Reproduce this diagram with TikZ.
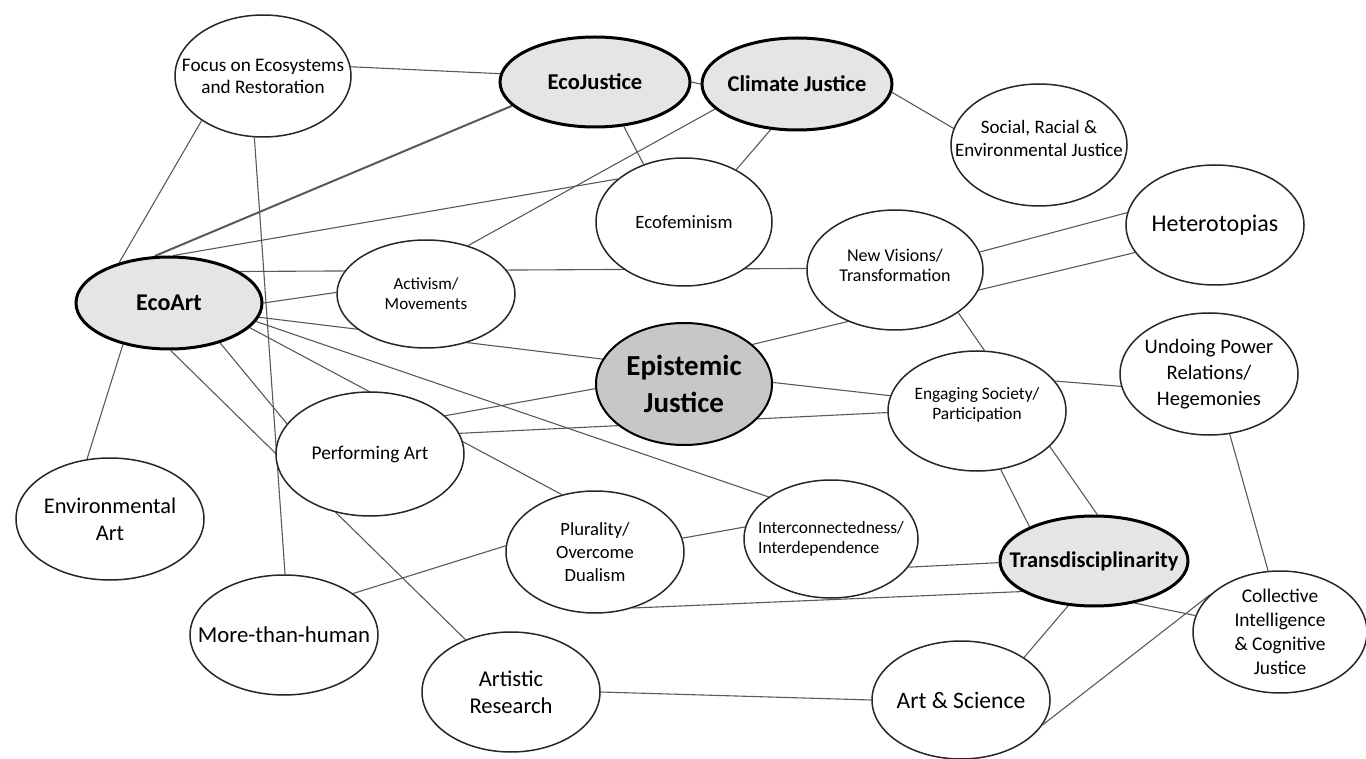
\documentclass[tikz,border=0pt]{standalone}
\usepackage{fontspec}
\setmainfont{Carlito}
\usetikzlibrary{shapes.geometric,backgrounds}
\newcommand\taille[2]{\fontsize{#1}{#2}\selectfont}
\tikzset{
  bulle/.style={ellipse,draw=black!85,line width=0.75pt,fill=white,inner sep=0pt},
  cle/.style={bulle,draw=black,line width=1.5pt,fill=black!10},
  lien/.style={black!65,line width=0.55pt},
  texte/.style 2 args={label={[font=#1,align=center]center:{#2}}}
}
\begin{document}
\begin{tikzpicture}[x=0.5pt,y=-0.5pt]
  \useasboundingbox (0,0) rectangle (1366,759);
  % les notions principales
  \node[cle,minimum width=95pt,minimum height=45pt,texte={\taille{11.3}{13}\bfseries}{EcoJustice}] (ecojust) at (595,82) {};
  \node[cle,minimum width=95pt,minimum height=46pt,texte={\taille{11.3}{13}\bfseries}{Climate Justice}] (climate) at (797,84) {};
  \node[cle,minimum width=93pt,minimum height=46pt,texte={\taille{12}{14}\bfseries}{EcoArt}] (ecoart) at (169,303) {};
  \node[cle,fill=black!22,line width=1pt,minimum width=88pt,minimum height=61pt,texte={\taille{14.5}{18.5}\bfseries}{Epistemic\\Justice}] (epist) at (684,384) {};
  \node[cle,minimum width=94pt,minimum height=45pt,texte={\taille{11.2}{13}\bfseries}{Transdisciplinarity}] (trans) at (1094,561) {};
  % les autres bulles
  \node[bulle,minimum width=88pt,minimum height=61pt,texte={\taille{9.6}{11}}{Focus on Ecosystems\\and Restoration}] (focus) at (263,76) {};
  \node[bulle,minimum width=88pt,minimum height=61pt,label={[font=\taille{9.5}{11.5},align=center,yshift=3.5pt]center:{Social, Racial \&\\Environmental Justice}}] (social) at (1039,145) {};
  \node[bulle,minimum width=89pt,minimum height=60pt,texte={\taille{12}{14}}{Heterotopias}] (hetero) at (1215,225) {};
  \node[bulle,minimum width=88pt,minimum height=64pt,texte={\taille{9.4}{11}}{Ecofeminism}] (ecofem) at (684,222) {};
  \node[bulle,minimum width=88pt,minimum height=60pt,label={[font=\taille{9}{10},align=center,yshift=2.5pt]center:{New Visions/\\Transformation}}] (newvis) at (895,270) {};
  \node[bulle,minimum width=89pt,minimum height=54pt,texte={\taille{8.5}{10}}{Activism/\\Movements}] (activ) at (426,294) {};
  \node[bulle,minimum width=89pt,minimum height=60pt,label={[font=\taille{8.7}{10},align=center,yshift=3pt]center:{Engaging Society/\\Participation}}] (engage) at (977,411) {};
  \node[bulle,minimum width=89pt,minimum height=61pt,texte={\taille{10.3}{13}}{Undoing Power\\Relations/\\Hegemonies}] (undo) at (1209,374) {};
  \node[bulle,minimum width=94pt,minimum height=62pt,texte={\taille{9.7}{11}}{Performing Art}] (perform) at (370,454) {};
  \node[bulle,minimum width=94pt,minimum height=61pt,texte={\taille{11.2}{13.5}}{Environmental\\Art}] (envart) at (110,519) {};
  \node[bulle,minimum width=89pt,minimum height=61pt,texte={\taille{9.3}{11.5}}{Plurality/\\Overcome\\Dualism}] (plural) at (595,552) {};
  \node[bulle,minimum width=87pt,minimum height=59pt,label={[font=\taille{8.7}{10},align=left]center:{Interconnectedness/\\Interdependence}}] (inter) at (831,539) {};
  \node[bulle,minimum width=94pt,minimum height=60pt,texte={\taille{11.4}{13}}{More-than-human}] (more) at (284,635) {};
  \node[bulle,minimum width=89pt,minimum height=60pt,texte={\taille{11.3}{13.5}}{Artistic\\Research}] (artres) at (511,692) {};
  \node[bulle,minimum width=87pt,minimum height=61pt,texte={\taille{9.7}{12}}{Collective\\Intelligence\\\& Cognitive\\Justice}] (collect) at (1280,632) {};
  \node[bulle,minimum width=89pt,minimum height=59pt,texte={\taille{11.8}{14}}{Art \& Science}] (artsci) at (961,700) {};
  % les liens, derriere les bulles
  \begin{scope}[on background layer]
    \draw[lien,line width=1pt] (ecojust.196) -- (ecoart.107);
    \foreach \a/\b in {focus.6/ecojust.175, focus.216/ecoart.141, focus.262/more.89,
        ecojust.0/climate.180, ecojust.303/ecofem.125, climate.240/ecofem.45,
        climate.197/activ.49, climate.355/social.169,
        ecoart.85/ecofem.147, ecoart.24/newvis.179, ecoart.0/activ.179,
        ecoart.351/epist.163, ecoart.348/inter.146, ecoart.343/plural.120,
        ecoart.322/perform.160, ecoart.272/artres.131, ecoart.222/envart.111,
        perform.27/epist.183, perform.13/engage.181, epist.1/engage.170,
        epist.30/hetero.199, newvis.12/hetero.172, newvis.326/engage.83,
        engage.21/undo.188, engage.292/trans.152, engage.334/trans.86,
        undo.289/collect.101, plural.9/inter.172, inter.340/trans.181,
        plural.304/trans.203, trans.314/collect.169, more.31/plural.176,
        artres.0/artsci.180, artsci.34/trans.240, artsci.343/collect.152}{
        \draw[lien] (\a) -- (\b);
    }
  \end{scope}
\end{tikzpicture}
\end{document}
